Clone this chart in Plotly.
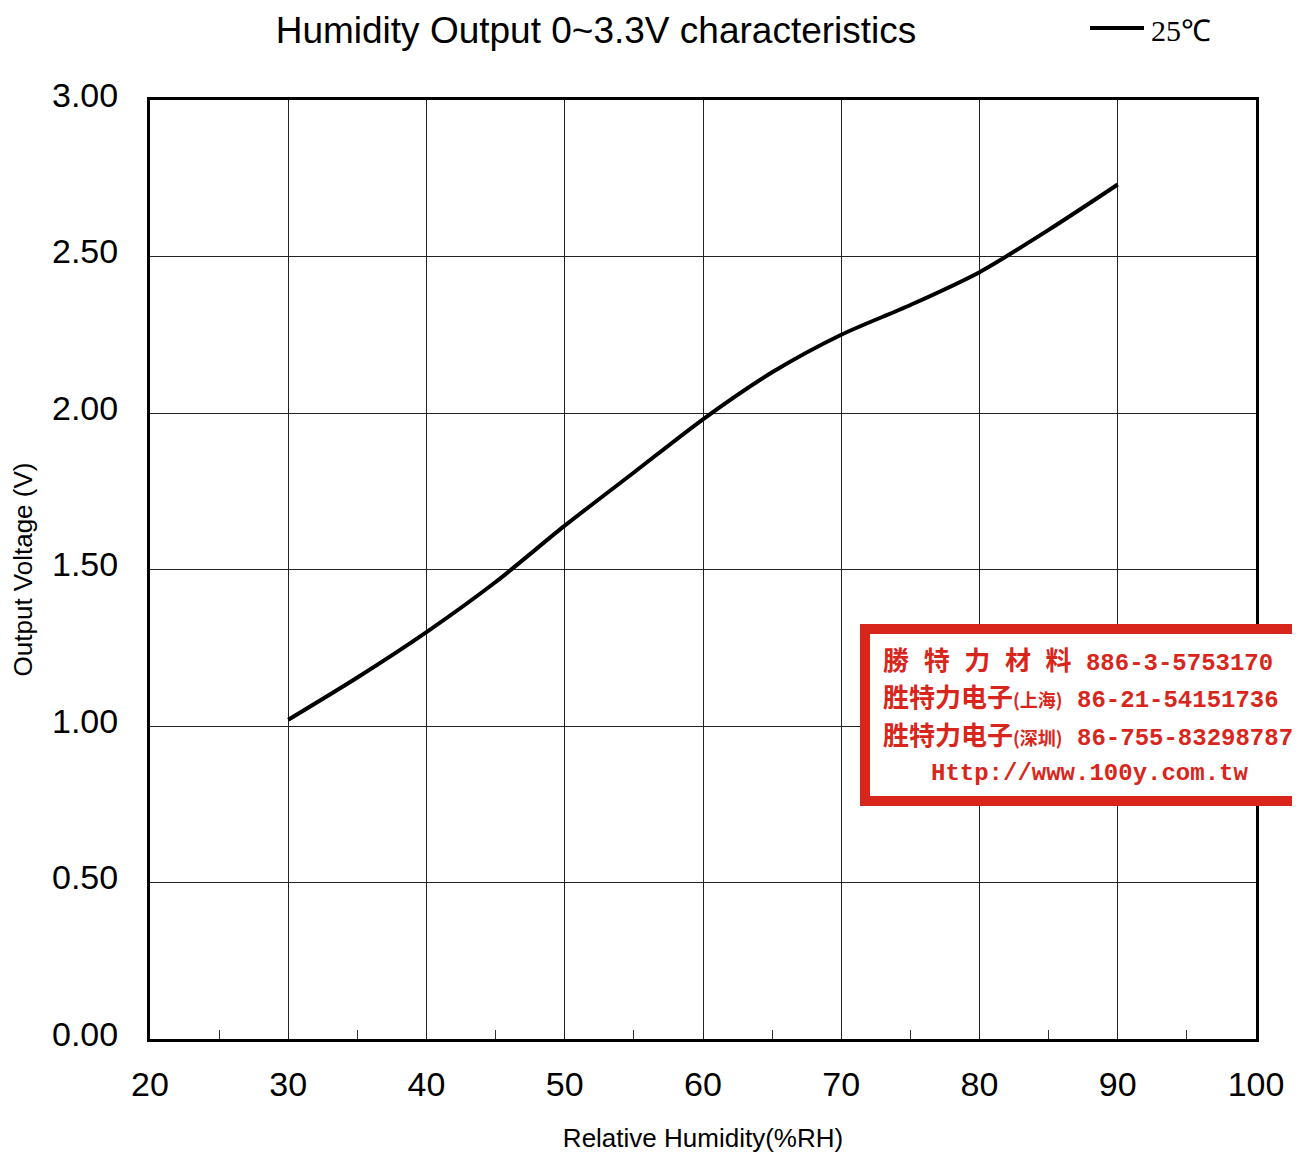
import plotly.graph_objects as go

humidity = [30, 35, 40, 45, 50, 55, 60, 65, 70, 75, 80, 85, 90]
voltage = [1.02, 1.155, 1.30, 1.46, 1.64, 1.81, 1.98, 2.13, 2.25, 2.345, 2.45, 2.585, 2.73]
series_name = "25℃"
x_ticks = [20, 30, 40, 50, 60, 70, 80, 90, 100]
y_ticks = [0, 0.5, 1.0, 1.5, 2.0, 2.5, 3.0]
y_tick_text = ["0.00", "0.50", "1.00", "1.50", "2.00", "2.50", "3.00"]

CJK = "Noto Sans CJK SC"
MONO = "Liberation Mono"
def cj(s, size=26):
    return f"<span style='font-family:{CJK};font-size:{size}px'>{s}</span>"
def mo(s):
    return f"<span style='font-family:{MONO}'>{s}</span>"
sp = "\u2002\u200a"
stamp_lines = [
    cj(sp.join(["勝", "特", "力", "材", "料"])) + " " + mo("886-3-5753170"),
    cj("胜特力电子") + cj("(上海)", 18) + " " + mo("86-21-54151736"),
    cj("胜特力电子") + cj("(深圳)", 18) + " " + mo("86-755-83298787"),
    mo("Http://www.100y.com.tw"),
]

OFF = 6  # browser body margin (measured)
W, H = 1300 - 2 * 8, 1153 - 8
# desired page-pixel layout of plot area: left 148, right 1256, top 98, bottom 1037
L, T = 148 - OFF, 98 - OFF
R = W - (1254 - OFF)
B = H - (1037 - OFF)
pw, ph = W - L - R, H - T - B

def px(x):  # page pixel x -> paper
    return (x - OFF - L) / pw

def py(y):  # page pixel y -> paper
    return (H - B - (y - OFF)) / ph

fig = go.Figure()
fig.add_trace(go.Scatter(
    x=humidity, y=voltage, mode="lines", name=series_name, showlegend=False,
    line=dict(color="black", width=4, shape="spline", smoothing=0.8),
))

# legend drawn manually (long line sample like the reference)
fig.add_shape(type="line", xref="paper", yref="paper",
              x0=px(1088), x1=px(1142), y0=py(26), y1=py(26),
              line=dict(color="black", width=4))
fig.add_annotation(xref="paper", yref="paper", x=px(1147), y=py(28),
                   xanchor="left", yanchor="middle", text=series_name, showarrow=False,
                   font=dict(family="Liberation Serif", size=30, color="black"))

red = "#d9261c"
fig.add_shape(type="rect", xref="paper", yref="paper",
              x0=px(863), x1=px(1330), y0=py(799), y1=py(627),
              line=dict(color=red, width=10), fillcolor="white", layer="above")

ys = [656, 693, 731, 771]
for i, (txt, yy) in enumerate(zip(stamp_lines, ys)):
    if i < 3:
        fig.add_annotation(xref="paper", yref="paper", x=px(879), y=py(yy),
                           xanchor="left", yanchor="middle", text="<b>" + txt + "</b>", showarrow=False,
                           font=dict(family=MONO, size=24, color=red))
    else:
        fig.add_annotation(xref="paper", yref="paper", x=px(1087), y=py(yy),
                           xanchor="center", yanchor="middle", text="<b>" + txt + "</b>", showarrow=False,
                           font=dict(family=MONO, size=24, color=red))

fig.update_layout(
    width=W, height=H,
    margin=dict(l=L, r=R, t=T, b=B, autoexpand=False),
    paper_bgcolor="white", plot_bgcolor="white",
    title=dict(text="Humidity Output 0~3.3V characteristics", xref="container",
               x=(594 - OFF) / W, xanchor="center",
               yref="container", y=1 - (28 - OFF) / H, yanchor="middle",
               font=dict(family="Liberation Sans, Arial", size=37, color="black")),
    showlegend=False,
    xaxis=dict(range=[20, 100], tickvals=x_ticks, showgrid=True, gridcolor="#222222", gridwidth=1,
               showline=True, linecolor="black", linewidth=3, mirror=True,
               ticks="", tickfont=dict(family="Liberation Sans, Arial", size=34, color="black"),
               ticklabelstandoff=13, zeroline=False,
               minor=dict(tickvals=[25, 35, 45, 55, 65, 75, 85, 95], ticks="inside", ticklen=9,
                          tickcolor="#333333", tickwidth=1, showgrid=False),
               title=dict(text="Relative Humidity(%RH)", standoff=42,
                          font=dict(family="Liberation Sans, Arial", size=26, color="black"))),
    yaxis=dict(range=[0, 3], tickvals=y_ticks, ticktext=y_tick_text, showgrid=True,
               gridcolor="#222222", gridwidth=1,
               showline=True, linecolor="black", linewidth=3, mirror=True,
               ticks="", tickfont=dict(family="Liberation Sans, Arial", size=34, color="black"),
               ticklabelstandoff=22, ticklabelshift=-5, zeroline=False,
               title=dict(text="Output Voltage (V)", standoff=15,
                          font=dict(family="Liberation Sans, Arial", size=26, color="black"))),
)

fig.write_html("out.html")
